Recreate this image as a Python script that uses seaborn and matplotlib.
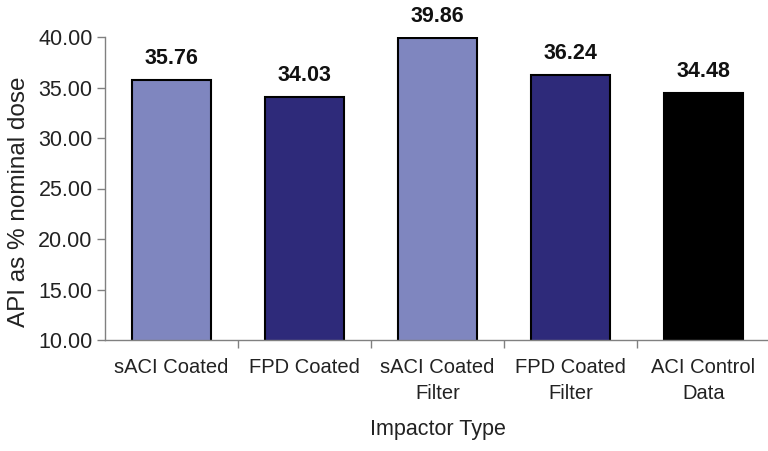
import matplotlib
matplotlib.use("Agg")
import matplotlib.pyplot as plt
import seaborn as sns
import pandas as pd
import numpy as np

categories = ["sACI Coated", "FPD Coated", "sACI Coated\nFilter", "FPD Coated\nFilter", "ACI Control\nData"]
values = [35.76, 34.03, 39.86, 36.24, 34.48]
colors = ["#7F86BF", "#2E2A7A", "#7F86BF", "#2E2A7A", "#000000"]
yticks = [10, 15, 20, 25, 30, 35, 40]

sns.set_theme(style="white")
plt.rcParams['font.family'] = ['Liberation Sans', 'DejaVu Sans']

fig = plt.figure(figsize=(7.68, 4.51), dpi=100)
ax = fig.add_axes([105/768, 111/451, 665/768, 303/451])

df = pd.DataFrame({"cat": categories, "val": values})
sns.barplot(data=df, x="cat", y="val", hue="cat", palette=colors, legend=False,
            width=0.6, edgecolor="black", linewidth=1.5, ax=ax, saturation=1)

ax.set_ylim(10, 40)
ax.set_xlim(-0.5, len(categories) - 0.5)
ax.set_yticks(yticks)
ax.set_yticklabels([f"{v:.2f}" for v in yticks], fontsize=15.5, color="#222222")
ax.set_xticks(range(len(categories)))
ax.set_xticklabels(categories, fontsize=14.5, color="#222222", linespacing=1.45)
ax.set_xticks(np.arange(0.5, len(categories) - 0.5, 1), minor=True)
ax.tick_params(axis="x", which="major", length=0, pad=13)
ax.tick_params(axis="x", which="minor", length=6, width=1, color="#808080", direction="out", bottom=True)
ax.tick_params(axis="y", length=6, width=1, color="#808080", direction="out", left=True, pad=3)

for s in ["top", "right"]:
    ax.spines[s].set_visible(False)
for s in ["left", "bottom"]:
    ax.spines[s].set_color("#808080")
    ax.spines[s].set_linewidth(1)

for i, v in enumerate(values):
    ax.text(i, v + 1.1, f"{v:.2f}", ha="center", va="bottom", fontsize=15.5, fontweight="bold", color="#111111")

ax.set_xlabel("Impactor Type", fontsize=15.5, color="#222222", labelpad=12)
ax.set_ylabel("API as % nominal dose", fontsize=17.5, color="#222222", va="center")
ax.yaxis.set_label_coords(-0.13, 0.455)

fig.savefig("out.png", dpi=100)
